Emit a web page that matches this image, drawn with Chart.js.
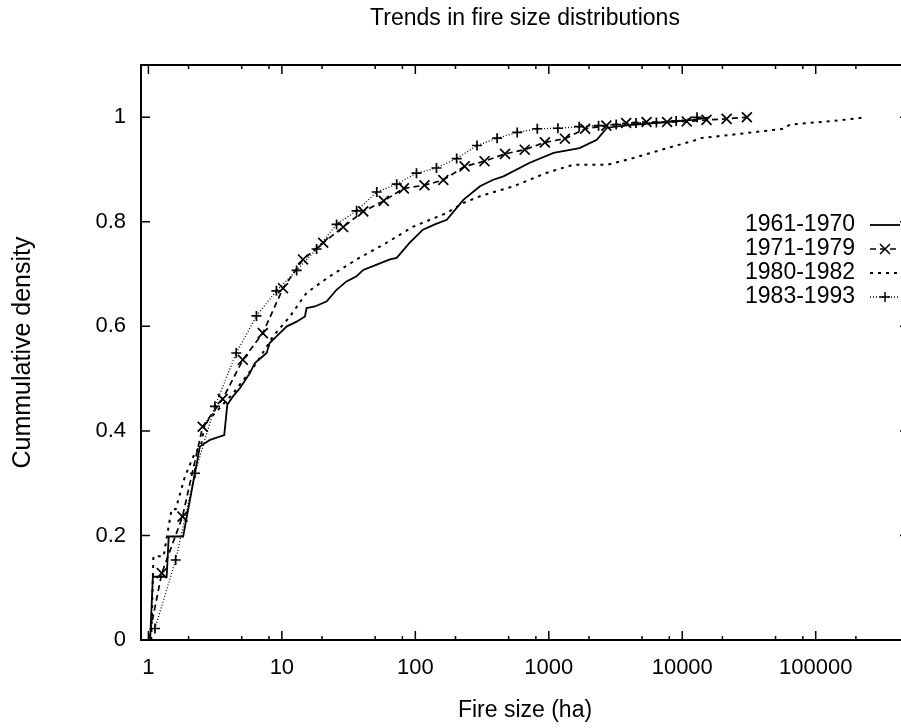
<!DOCTYPE html>
<html>
<head>
<meta charset="utf-8">
<title>Trends in fire size distributions</title>
<script src="https://cdn.jsdelivr.net/npm/chart.js@4.4.1/dist/chart.umd.min.js"></script>
<style>
  html, body { margin: 0; padding: 0; background: #fff; overflow: hidden; }
  #wrap { width: 918px; height: 728px; }
</style>
</head>
<body>
<div id="wrap"><canvas id="fireChart" width="918" height="728"></canvas></div>
<script>
// ========================================
// DATA (fire size in ha, cumulative share)
// ========================================
const seriesNames = ['1961-1970', '1971-1979', '1980-1982', '1983-1993'];

const size6170 = [1.03, 1.08, 1.37, 1.42, 1.82, 2.43, 2.9, 3.7, 3.9, 4.3, 4.86, 5.77, 6.28, 7.69, 8.1, 9.4, 10.9, 12.9, 14.9, 15.3, 17.7, 21.7, 25.7, 30.5, 36.3, 40.7, 51.4, 64.5, 72.5, 90.8, 114, 140, 172, 229, 305, 380, 457, 720, 1085, 1700, 2290, 2730, 4000, 7000, 12000, 16000];
const cdf6170  = [0, 0.121, 0.121, 0.198, 0.198, 0.37, 0.383, 0.392, 0.45, 0.466, 0.482, 0.511, 0.53, 0.549, 0.568, 0.584, 0.6, 0.609, 0.619, 0.635, 0.638, 0.648, 0.67, 0.686, 0.696, 0.708, 0.718, 0.728, 0.731, 0.76, 0.785, 0.795, 0.804, 0.842, 0.868, 0.88, 0.887, 0.913, 0.932, 0.941, 0.957, 0.98, 0.985, 0.99, 0.995, 1.0];

const size7179 = [1.0, 1.26, 1.8, 2.55, 3.6, 5.1, 7.2, 10.2, 14.4, 20.4, 28.8, 40.7, 58, 82, 117, 162, 234, 330, 470, 660, 935, 1320, 1870, 2700, 3800, 5400, 7700, 10800, 15200, 21500, 30500];
const cdf7179  = [0.0, 0.128, 0.236, 0.408, 0.461, 0.536, 0.587, 0.673, 0.728, 0.76, 0.79, 0.82, 0.84, 0.864, 0.87, 0.88, 0.906, 0.916, 0.93, 0.938, 0.952, 0.959, 0.978, 0.984, 0.989, 0.991, 0.991, 0.992, 0.995, 0.997, 1.0];

const size8082 = [1.05, 1.09, 1.3, 1.49, 1.6, 1.88, 2.17, 2.5, 2.65, 2.9, 4.32, 6.46, 8.6, 11.5, 15.3, 22.9, 36.3, 61, 96.6, 172, 229, 305, 544, 971, 1520, 2730, 4300, 7700, 12900, 13600, 24300, 57500, 64000, 137000, 240000];
const cdf8082  = [0, 0.16, 0.16, 0.25, 0.25, 0.313, 0.351, 0.377, 0.415, 0.424, 0.472, 0.53, 0.581, 0.619, 0.664, 0.696, 0.728, 0.76, 0.791, 0.817, 0.836, 0.849, 0.868, 0.894, 0.909, 0.909, 0.922, 0.941, 0.957, 0.96, 0.967, 0.978, 0.986, 0.993, 1.0];

const size8393 = [1.12, 1.6, 2.23, 3.15, 4.55, 6.45, 9.1, 12.9, 18.2, 25.7, 36.3, 51.4, 72.5, 102, 144, 204, 290, 410, 580, 820, 1170, 1690, 2360, 3200, 4500, 6400, 9000, 12900];
const cdf8393  = [0.022, 0.153, 0.319, 0.447, 0.549, 0.62, 0.668, 0.707, 0.748, 0.795, 0.821, 0.857, 0.872, 0.893, 0.903, 0.921, 0.946, 0.96, 0.971, 0.978, 0.979, 0.982, 0.984, 0.986, 0.989, 0.99, 0.993, 1.0];

// axis ticks
const xMajorTicks = [1, 10, 100, 1000, 10000, 100000];
const xMinorSteps = [2, 5, 8];
const yTicks = [0, 0.2, 0.4, 0.6, 0.8, 1];

// ========================================
// HELPERS
// ========================================
const FONT = '"Liberation Sans", Arial, Helvetica, sans-serif';
const INK = '#000';

function toPoints(xs, ys) {
    return xs.map((x, i) => ({ x: x, y: ys[i] }));
}

// gnuplot-like point glyphs for the key samples
function drawGlyph(ctx, style, x, y, r) {
    ctx.beginPath();
    if (style === 'crossRot') {
        ctx.moveTo(x - r, y - r); ctx.lineTo(x + r, y + r);
        ctx.moveTo(x - r, y + r); ctx.lineTo(x + r, y - r);
    } else if (style === 'cross') {
        ctx.moveTo(x - r, y); ctx.lineTo(x + r, y);
        ctx.moveTo(x, y - r); ctx.lineTo(x, y + r);
    }
    ctx.stroke();
}

// inward tick marks + top frame line
const frameTicks = {
    id: 'frameTicks',
    afterDraw(chart) {
        const { ctx, chartArea: a, scales: { x, y } } = chart;
        ctx.save();
        ctx.strokeStyle = INK;
        ctx.lineWidth = 2;
        ctx.beginPath();
        ctx.moveTo(a.left, a.top); ctx.lineTo(a.right, a.top);
        ctx.stroke();
        ctx.lineWidth = 1.5;
        ctx.beginPath();
        xMajorTicks.forEach(v => {
            const px = x.getPixelForValue(v);
            ctx.moveTo(px, a.bottom); ctx.lineTo(px, a.bottom - 9);
            ctx.moveTo(px, a.top); ctx.lineTo(px, a.top + 9);
            xMinorSteps.forEach(m => {
                const mv = v * m;
                if (mv > x.max) return;
                const mp = x.getPixelForValue(mv);
                ctx.moveTo(mp, a.bottom); ctx.lineTo(mp, a.bottom - 4);
                ctx.moveTo(mp, a.top); ctx.lineTo(mp, a.top + 4);
            });
        });
        yTicks.forEach(v => {
            const py = y.getPixelForValue(v);
            ctx.moveTo(a.left, py); ctx.lineTo(a.left + 9, py);
            ctx.moveTo(a.right, py); ctx.lineTo(a.right - 9, py);
        });
        ctx.stroke();
        ctx.restore();
    }
};

// gnuplot style key: label, then a line sample with the marker in the middle
const sideKey = {
    id: 'sideKey',
    afterDraw(chart) {
        const ctx = chart.ctx;
        const textRight = 855, lineStart = 870, lineEnd = 900, top = 225, step = 24;
        ctx.save();
        ctx.font = '23px ' + FONT;
        ctx.fillStyle = INK;
        ctx.textAlign = 'right';
        ctx.textBaseline = 'middle';
        chart.data.datasets.forEach((ds, i) => {
            const yy = top + i * step;
            ctx.fillText(ds.label, textRight, yy);
            ctx.strokeStyle = INK;
            ctx.lineWidth = ds.borderWidth;
            ctx.setLineDash(ds.borderDash || []);
            ctx.beginPath();
            ctx.moveTo(lineStart, yy); ctx.lineTo(lineEnd, yy);
            ctx.stroke();
            ctx.setLineDash([]);
            if (ds.keyGlyph) {
                ctx.lineWidth = 1.5;
                drawGlyph(ctx, ds.keyGlyph, (lineStart + lineEnd) / 2, yy, 5);
            }
        });
        ctx.restore();
    }
};

// ========================================
// CHART
// ========================================
const ctx = document.getElementById('fireChart');

new Chart(ctx, {
    type: 'line',
    data: {
        datasets: [
            {
                label: seriesNames[0],
                data: toPoints(size6170, cdf6170),
                borderColor: INK, borderWidth: 1.8,
                pointRadius: 0, fill: false, tension: 0
            },
            {
                label: seriesNames[1],
                data: toPoints(size7179, cdf7179),
                borderColor: INK, borderWidth: 1.7, borderDash: [6, 4],
                pointStyle: 'crossRot',
                pointRadius: c => (c.dataIndex === 0 ? 0 : 7),
                pointBorderColor: INK, pointBorderWidth: 1.7,
                fill: false, tension: 0, keyGlyph: 'crossRot'
            },
            {
                label: seriesNames[2],
                data: toPoints(size8082, cdf8082),
                borderColor: INK, borderWidth: 2, borderDash: [3, 5],
                pointRadius: 0, fill: false, tension: 0
            },
            {
                label: seriesNames[3],
                data: toPoints(size8393, cdf8393),
                borderColor: INK, borderWidth: 1.3, borderDash: [1, 2],
                pointStyle: 'cross', pointRadius: 5,
                pointBorderColor: INK, pointBorderWidth: 1.7,
                fill: false, tension: 0, keyGlyph: 'cross'
            }
        ]
    },
    options: {
        responsive: false,
        animation: false,
        devicePixelRatio: 1,
        layout: { padding: { left: 0, right: 9, top: 0, bottom: 0 } },
        plugins: {
            legend: { display: false },
            tooltip: { enabled: false },
            title: {
                display: true,
                text: 'Trends in fire size distributions',
                fullSize: false,
                color: INK,
                font: { family: FONT, size: 23, weight: 'normal' },
                padding: { top: 5, bottom: 32.4 }
            }
        },
        scales: {
            x: {
                type: 'logarithmic',
                min: 0.88,
                max: 500000,
                afterBuildTicks: s => { s.ticks = xMajorTicks.map(v => ({ value: v })); },
                afterFit: s => { s.height = 88; },
                grid: { display: false, drawTicks: false },
                border: { display: true, color: INK, width: 2 },
                ticks: {
                    color: INK,
                    font: { family: FONT, size: 22 },
                    padding: 15,
                    maxRotation: 0,
                    autoSkip: false,
                    callback: v => String(v)
                },
                title: {
                    display: true,
                    text: 'Fire size (ha)',
                    color: INK,
                    font: { family: FONT, size: 23 },
                    padding: { top: 0, bottom: 4 }
                }
            },
            y: {
                min: 0,
                max: 1.1,
                afterBuildTicks: s => { s.ticks = yTicks.map(v => ({ value: v })); },
                afterFit: s => { s.width = 141; },
                grid: { display: false, drawTicks: false },
                border: { display: true, color: INK, width: 2 },
                ticks: {
                    color: INK,
                    font: { family: FONT, size: 22 },
                    padding: 15,
                    callback: v => String(v)
                },
                title: {
                    display: true,
                    text: 'Cummulative density',
                    color: INK,
                    font: { family: FONT, size: 25 },
                    padding: { top: 8, bottom: 0 }
                }
            }
        }
    },
    plugins: [frameTicks, sideKey]
});
</script>
</body>
</html>
